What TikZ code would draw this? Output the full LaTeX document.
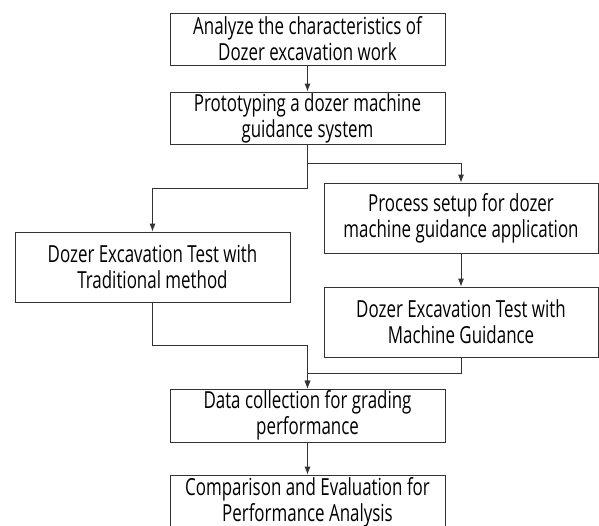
\documentclass[tikz,border=0pt]{standalone}
\usepackage{fontspec}
\setmainfont[FakeStretch=0.72]{Open Sans}
\usepackage{tikz}
\usetikzlibrary{arrows.meta, positioning, calc}

\begin{document}
\begin{tikzpicture}[x=1pt, y=-1pt,
	stepbox/.style={draw=black!80, line width=0.8pt, minimum width=275pt, minimum height=52pt, align=center, inner sep=0pt, font=\fontsize{23.5}{26}\selectfont},
	tallbox/.style={stepbox, minimum height=70pt},
	link/.style={draw=black!80, line width=0.8pt}]
\useasboundingbox (0,0) rectangle (599,525);

% Boxes
\node[stepbox] (analyze) at (307.5,39) {Analyze the characteristics of\\Dozer excavation work};
\node[stepbox] (proto) at (307.5,118) {Prototyping a dozer machine\\guidance system};
\node[tallbox] (trad) at (152.5,267) {Dozer Excavation Test with\\Traditional method};
\node[tallbox, minimum width=274pt] (setup) at (461,218) {Process setup for dozer\\machine guidance application};
\node[tallbox, minimum width=274pt] (guide) at (461,322) {Dozer Excavation Test with\\Machine Guidance};
\node[stepbox, minimum height=53pt] (data) at (307.5,415.5) {Data collection for grading\\performance};
\node[stepbox, minimum height=54pt] (compare) at (307.5,502) {Comparison and Evaluation for\\Performance Analysis};

% Arrows
\draw[link, ->, >={Latex[length=8pt,width=6pt]}] (analyze) -- (proto);
\draw[link, ->, >={Latex[length=8pt,width=6pt]}] (proto.south) -- ++(0,19) -| (setup.north);
\draw[link, ->, >={Latex[length=8pt,width=6pt]}] (proto.south) -- ++(0,44) -| (trad.north);
\draw[link, ->, >={Latex[length=8pt,width=6pt]}] (setup) -- (guide);
\draw[link, ->, >={Latex[length=8pt,width=6pt]}] (trad.south) -- ++(0,43) -| (data.north);
\draw[link, ->, >={Latex[length=8pt,width=6pt]}] (guide.south) -- ++(0,16) -| (data.north);
\draw[link, ->, >={Latex[length=8pt,width=6pt]}] (data) -- (compare);
\end{tikzpicture}
\end{document}
